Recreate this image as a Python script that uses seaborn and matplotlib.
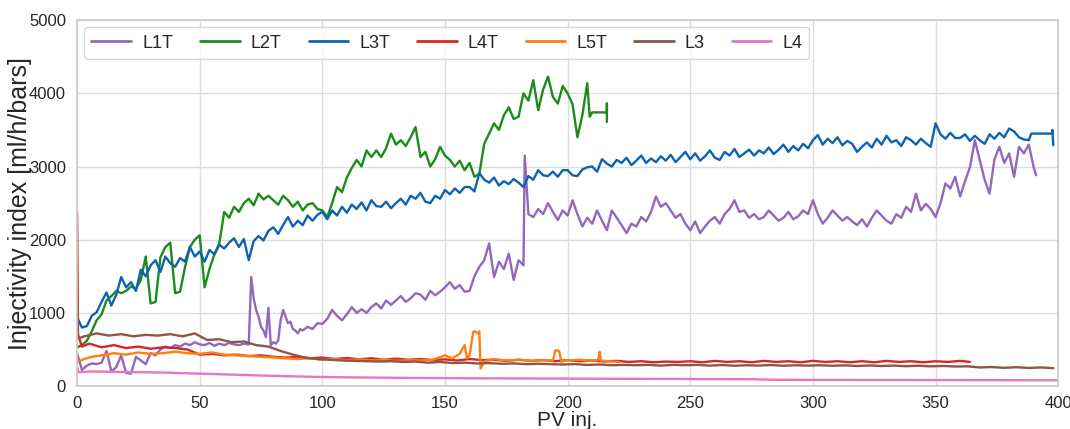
import numpy as np
import pandas as pd
import matplotlib
matplotlib.use("Agg")
import matplotlib.pyplot as plt
import seaborn as sns

# ---------------- data ----------------
series_names = ["L1T", "L2T", "L3T", "L4T", "L5T", "L3", "L4"]

# L3T (blue)
l3t_x = list(np.arange(0, 387, 2)) + [388, 389, 397.5, 397.6, 398]
l3t_y = [940, 800, 820, 960, 1010, 1150, 1280, 1100, 1250, 1490,
         1350, 1420, 1300, 1590, 1500, 1650, 1720, 1560, 1770, 1680,
         1630, 1750, 1700, 1900, 1770, 1840, 1700, 1860, 1800, 1930,
         1880, 1960, 2020, 1900, 2010, 1720, 1980, 2050, 1990, 2120,
         2170, 2080, 2200, 2310, 2180, 2260, 2200, 2330, 2260, 2340,
         2380, 2280, 2400, 2330, 2450, 2370, 2480, 2420, 2510, 2400,
         2540, 2460, 2450, 2520, 2430, 2500, 2560, 2480, 2600, 2560,
         2640, 2520, 2500, 2600, 2560, 2680, 2620, 2700, 2640, 2720,
         2720, 2660, 2910, 2820, 2780, 2850, 2740, 2800, 2760, 2830,
         2780, 2720, 2870, 2820, 2950, 2880, 2870, 2930, 2860, 2950,
         2950, 2880, 2870, 2960, 2990, 3000, 2930, 3100, 3040, 3000,
         3090, 3050, 3120, 3020, 3080, 3150, 3050, 3110, 3060, 3140,
         3080, 3160, 3060, 3130, 3200, 3100, 3180, 3080, 3140, 3220,
         3120, 3090, 3200, 3150, 3240, 3130, 3180, 3230, 3150, 3220,
         3180, 3260, 3170, 3230, 3300, 3200, 3280, 3220, 3310, 3250,
         3360, 3430, 3300, 3380, 3320, 3400, 3290, 3350, 3310, 3200,
         3270, 3330, 3260, 3380, 3300, 3420, 3330, 3360, 3280, 3400,
         3360, 3300, 3380, 3320, 3270, 3590, 3440, 3380, 3460, 3390,
         3390, 3440, 3350, 3420, 3360, 3310, 3440, 3380, 3460, 3400,
         3520, 3480, 3400, 3370,
         3360, 3450, 3450, 3500, 3290]

# L2T (green)
l2t_x = list(np.arange(0, 209, 2)) + [209, 210, 216, 216, 216]
l2t_y = [530, 560, 620, 750, 900, 980, 1170, 1230, 1300, 1270,
         1300, 1360, 1330, 1450, 1770, 1130, 1150, 1760, 1900, 1960,
         1270, 1290, 1620, 1900, 2000, 2060, 1350, 1600, 1800, 1950,
         2380, 2300, 2450, 2380, 2500, 2560, 2470, 2630, 2550, 2600,
         2540, 2480, 2600, 2540, 2450, 2520, 2400, 2480, 2500, 2420,
         2400, 2310, 2500, 2720, 2650, 2850, 2980, 3090, 3000, 3220,
         3130, 3220, 3130, 3250, 3450, 3300, 3360, 3280, 3400, 3540,
         3130, 3200, 3000, 3100, 3270, 3150, 3090, 3000, 3080, 2950,
         3050, 2860, 2900, 3310, 3450, 3590, 3500, 3700, 3810, 3650,
         3680, 4000, 3900, 4180, 3770, 4050, 4230, 3950, 3860, 4100,
         4000, 3850, 3400, 3700, 4140,
         3680, 3740, 3740, 3860, 3610]

# L1T (purple)
l1t_x = (list(np.arange(0, 69, 2)) + list(np.arange(70, 92, 1)) +
         list(np.arange(92, 183, 2)) + [182.5] + list(np.arange(184, 391, 2)) + [391])
l1t_y = [450, 220, 280, 310, 300, 320, 480, 200, 260, 420,
         180, 170, 400, 350, 300, 450, 420, 500, 540, 520,
         560, 540, 580, 560, 600, 570, 560, 590, 550, 580,
         560, 590, 570, 560, 580,
         570, 1490, 1200, 1040, 950, 810, 760, 670, 1070, 560,
         600, 580, 620, 900, 1040, 950, 860, 880, 780, 760, 720, 780,
         760, 810, 780, 860, 850, 920, 1040, 960, 900, 980,
         1080, 1000, 1050, 1000, 1080, 1130, 1060, 1170, 1110, 1170,
         1230, 1150, 1200, 1270, 1250, 1180, 1300, 1240, 1290, 1350,
         1420, 1330, 1380, 1290, 1300, 1500, 1630, 1720, 1950, 1490,
         1700, 1600, 1810, 1450, 1720, 1650,
         3150,
         2350, 2310, 2420, 2350, 2500, 2380, 2270, 2400, 2330, 2540,
         2350, 2180, 2300, 2220, 2400, 2260, 2130, 2400, 2300, 2200,
         2090, 2220, 2180, 2310, 2250, 2380, 2590, 2450, 2500, 2400,
         2300, 2350, 2220, 2130, 2250, 2090, 2180, 2260, 2310, 2220,
         2350, 2420, 2540, 2380, 2400, 2300, 2350, 2280, 2310, 2400,
         2330, 2260, 2300, 2380, 2280, 2320, 2400, 2350, 2540, 2350,
         2220, 2300, 2400, 2330, 2260, 2310, 2250, 2200, 2280, 2180,
         2300, 2400, 2330, 2260, 2220, 2350, 2300, 2450, 2380, 2630,
         2400, 2490, 2420, 2310, 2500, 2770, 2700, 2860, 2590, 2800,
         2990, 3360, 3090, 2820, 2630, 3100, 3270, 3050, 3180, 2860,
         3270, 3180, 3300, 2990,
         2880]

# L4T (red)
l4t_x = [0, 0.4, 2] + list(np.arange(5, 361, 5)) + [364]
l4t_y = [2380, 700, 540,
         580, 530, 560, 520, 540, 510, 530, 520, 500, 430,
         440, 420, 430, 410, 420, 400, 390, 400, 380, 390,
         370, 385, 365, 380, 360, 375, 360, 370, 355, 365,
         350, 370, 355, 360, 345, 360, 345, 355, 340, 355,
         340, 350, 335, 345, 330, 340, 325, 335, 330, 340,
         325, 345, 330, 340, 325, 345, 330, 340, 325, 345,
         330, 340, 325, 340, 325, 345, 330, 340, 325, 340,
         330, 345,
         330]

# L5T (orange)
l5t_x = [0, 3, 6, 10, 15, 20, 25, 30, 35, 40, 45, 50, 55, 60, 65, 70, 75, 80, 85,
         90, 95, 100, 105, 110, 115, 120, 125, 130, 135, 140, 145, 150, 153, 156,
         158, 159, 160, 161.5, 162, 163.5, 164, 164.5, 166, 170, 175, 180, 185,
         190, 194, 195, 196.5, 197.5, 199, 205, 210, 212.5, 213, 213.5, 216, 221]
l5t_y = [330, 370, 400, 420, 450, 430, 460, 440, 450, 470, 450, 440, 460, 430,
         420, 410, 400, 390, 380, 370, 380, 360, 370, 355, 365, 350, 360, 345,
         355, 350, 360, 420, 380, 440, 560, 380, 420, 740, 750, 720, 750, 240,
         340, 370, 350, 360, 345, 355, 350, 490, 480, 330, 350, 360, 345, 360,
         470, 350, 340, 330]

# L3 (brown)
l3_x = [0, 0.4] + list(np.arange(3, 399, 5))
l3_y = [1170, 650,
        680, 720, 690, 710, 680, 700, 690, 710, 680, 720,
        630, 640, 600, 610, 560, 540, 480, 430, 390, 370,
        360, 350, 345, 340, 335, 340, 330, 335, 320, 330,
        315, 320, 310, 315, 305, 310, 300, 305, 300, 295,
        300, 290, 295, 285, 290, 285, 290, 280, 290, 285,
        290, 280, 288, 278, 285, 280, 288, 278, 285, 280,
        285, 278, 283, 275, 282, 275, 280, 272, 278, 270,
        275, 268, 270, 255, 260, 250, 258, 248, 255, 245]

# L4 (pink)
l4_x = [0, 0.5] + list(np.arange(5, 400, 10)) + [400]
l4_y = [260, 190,
        200, 195, 190, 185, 175, 165, 155, 145, 135, 128,
        122, 118, 115, 112, 110, 108, 106, 105, 104, 103,
        102, 100, 100, 98, 98, 96, 95, 94, 86, 85,
        84, 84, 83, 83, 82, 82, 81, 81, 80, 80,
        80]

xs = [l1t_x, l2t_x, l3t_x, l4t_x, l5t_x, l3_x, l4_x]
ys = [l1t_y, l2t_y, l3t_y, l4t_y, l5t_y, l3_y, l4_y]

frames = []
for name, x, y in zip(series_names, xs, ys):
    assert len(x) == len(y), (name, len(x), len(y))
    frames.append(pd.DataFrame({"PV": np.asarray(x, float), "II": np.asarray(y, float),
                                "series": name}))
df = pd.concat(frames, ignore_index=True)

colors = {"L1T": "#9467bd", "L2T": "#1a8c1a", "L3T": "#0d63b0", "L4T": "#d62728",
          "L5T": "#ff7f0e", "L3": "#8c564b", "L4": "#e377c2"}

# ---------------- plotting ----------------
sns.set_theme(style="whitegrid")
plt.rcParams["font.family"] = ["Liberation Sans", "DejaVu Sans"]

fig = plt.figure(figsize=(10.7, 4.29), dpi=100)
ax = fig.add_axes([0.072, 0.100, 0.917, 0.853])

sns.lineplot(data=df, x="PV", y="II", hue="series", hue_order=series_names,
             palette=colors, estimator=None, sort=False, units="series",
             linewidth=1.7, ax=ax)

ax.set_xlim(0, 400)
ax.set_ylim(0, 5000)
ax.set_xticks(np.arange(0, 401, 50))
ax.set_yticks(np.arange(0, 5001, 1000))
ax.tick_params(axis="x", labelsize=12, pad=1)
ax.tick_params(axis="y", labelsize=12, pad=2)
ax.set_xlabel("PV inj.", fontsize=15, labelpad=0)
ax.set_ylabel("Injectivity index [ml/h/bars]", fontsize=18, labelpad=-2)

for s in ax.spines.values():
    s.set_color("#cccccc")
ax.grid(color="#dddddd", linewidth=1)

leg = ax.legend(loc="upper left", ncol=7, fontsize=13, frameon=True,
                handlelength=2.2, handletextpad=0.6, columnspacing=1.5,
                borderaxespad=0.4, bbox_to_anchor=(0.0, 1.0))
for line in leg.get_lines():
    line.set_linewidth(2)
leg.get_frame().set_edgecolor("#cccccc")

fig.savefig("out.png", dpi=100)
